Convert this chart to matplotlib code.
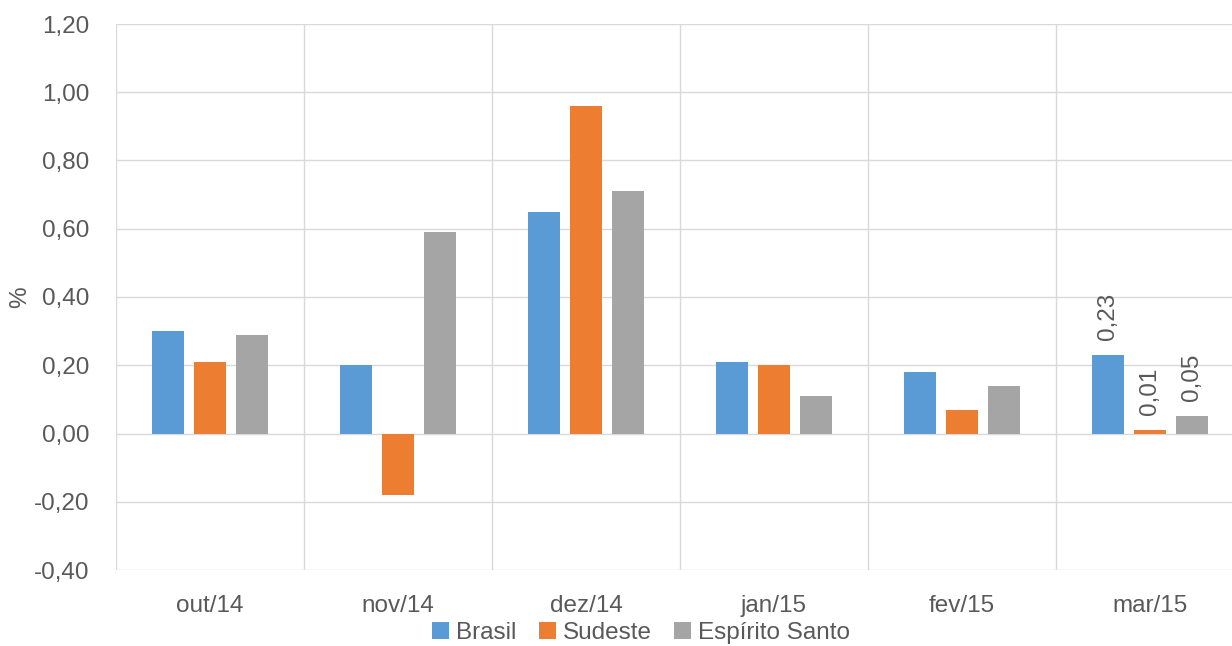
import numpy as np
import matplotlib.pyplot as plt

# 데이터
meses = ['out/14', 'nov/14', 'dez/14', 'jan/15', 'fev/15', 'mar/15']
brasil = [0.30, 0.20, 0.65, 0.21, 0.18, 0.23]
sudeste = [0.21, -0.18, 0.96, 0.20, 0.07, 0.01]
espirito_santo = [0.29, 0.59, 0.71, 0.11, 0.14, 0.05]

plt.rcParams['font.family'] = ['Liberation Sans', 'DejaVu Sans']
txt = '#595959'
fs = 17.5

fig = plt.figure(figsize=(12.32, 6.46), dpi=100)
ax = fig.add_axes([116 / 1232, 1 - 570 / 646, 1128 / 1232, 546 / 646])

x = np.arange(len(meses))
step, w = 0.223, 0.17
series = [('Brasil', brasil, '#5B9BD5'),
          ('Sudeste', sudeste, '#ED7D31'),
          ('Espírito Santo', espirito_santo, '#A5A5A5')]
for i, (nome, vals, cor) in enumerate(series):
    bars = ax.bar(x + (i - 1) * step, vals, w, color=cor, label=nome, zorder=3)
    # rótulo só no último mês
    b = bars[-1]
    v = vals[-1]
    ax.text(b.get_x() + b.get_width() / 2, max(v, 0) + 0.045, f'{v:.2f}'.replace('.', ','),
            rotation=90, ha='center', va='bottom', fontsize=fs, color=txt)

ax.set_xlim(-0.5, 5.5)
ax.set_ylim(-0.4, 1.2)
yt = np.arange(-0.4, 1.21, 0.2)
ax.set_yticks(yt)
ax.set_yticklabels([f'{v:.2f}'.replace('.', ',') for v in yt])
ax.set_xticks(x)
ax.set_xticklabels(meses)
ax.set_xticks(np.arange(-0.5, 6, 1), minor=True)

ax.grid(axis='y', which='major', color='#D9D9D9', linewidth=1, zorder=0)
ax.grid(axis='x', which='minor', color='#D9D9D9', linewidth=1, zorder=0)
ax.tick_params(which='both', length=0, labelsize=fs, colors=txt)
ax.tick_params(axis='y', pad=19)
ax.tick_params(axis='x', pad=18)
for s in ax.spines.values():
    s.set_visible(False)

# rótulo do eixo y
fig.text(20 / 1232, 1 - 297 / 646, '%', rotation=90, ha='center', va='center',
         fontsize=fs, color=txt)

fig.legend(loc='center', bbox_to_anchor=(641 / 1232, 1 - 633 / 646), ncol=3,
           frameon=False, fontsize=fs, labelcolor=txt, handlelength=0.7,
           handleheight=0.7, handletextpad=0.3, columnspacing=0.9,
           borderaxespad=0, borderpad=0)

fig.savefig('out.png', dpi=100)
